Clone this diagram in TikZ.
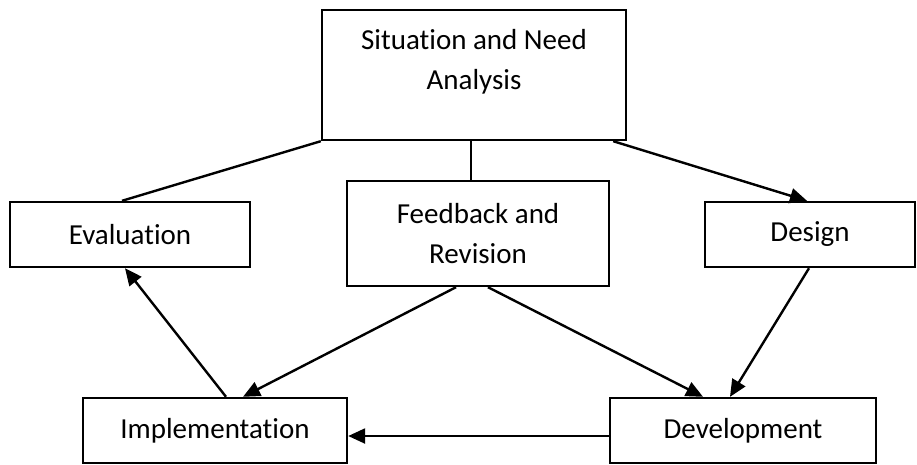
\documentclass[tikz,border=0pt]{standalone}
\usepackage{fontspec}
\setmainfont[Ligatures=CommonOff]{Carlito}
\usepackage{tikz}
\usetikzlibrary{arrows.meta,positioning}
\tikzset{
  box/.style={draw=black,line width=2.4pt,rectangle,inner sep=0pt,align=center,font=\fontsize{29}{40}\selectfont},
  edg/.style={line width=2.4pt},
  arr/.style={-{Triangle[length=17pt,width=15pt]},line width=2.4pt},
}

\begin{document}
\begin{tikzpicture}[x=1pt,y=-1pt]
  \useasboundingbox (0,0) rectangle (917,464);
  % ---------------- boxes
  \node[box,minimum width=304pt,minimum height=130pt,text depth=32pt] (sna) at (474,75) {Situation and Need\\Analysis};
  \node[box,minimum width=240pt,minimum height=65pt] (eval) at (130,234.5) {Evaluation};
  \node[box,minimum width=262pt,minimum height=105pt] (fb) at (478,233.5) {Feedback and\\Revision};
  \node[box,minimum width=210pt,minimum height=65pt] (des) at (810,234.5) {Design};
  \node[box,minimum width=264pt,minimum height=65pt] (impl) at (215,430.5) {Implementation};
  \node[box,minimum width=266pt,minimum height=65pt] (dev) at (743,430.5) {Development};
  % ---------------- connectors
  \draw[edg] (sna.south west) -- ([xshift=-8pt]eval.north);
  \draw[edg] ([xshift=-3pt]sna.south) -- ([xshift=-3pt]sna.south |- fb.north);
  \draw[arr] ([xshift=-14pt]sna.south east) -- ([xshift=-3pt]des.north);
  \draw[arr] ([xshift=-1pt]des.south) -- ([xshift=-13pt]dev.north);
  \draw[arr] ([xshift=10pt]fb.south) -- ([xshift=-40pt]dev.north);
  \draw[arr] ([xshift=-22pt]fb.south) -- ([xshift=28pt]impl.north);
  \draw[arr] ([xshift=11pt]impl.north) -- ([xshift=-5pt]eval.south);
  \draw[arr] ([yshift=-5.5pt]dev.west) -- ([yshift=-5.5pt]impl.east);
\end{tikzpicture}
\end{document}
